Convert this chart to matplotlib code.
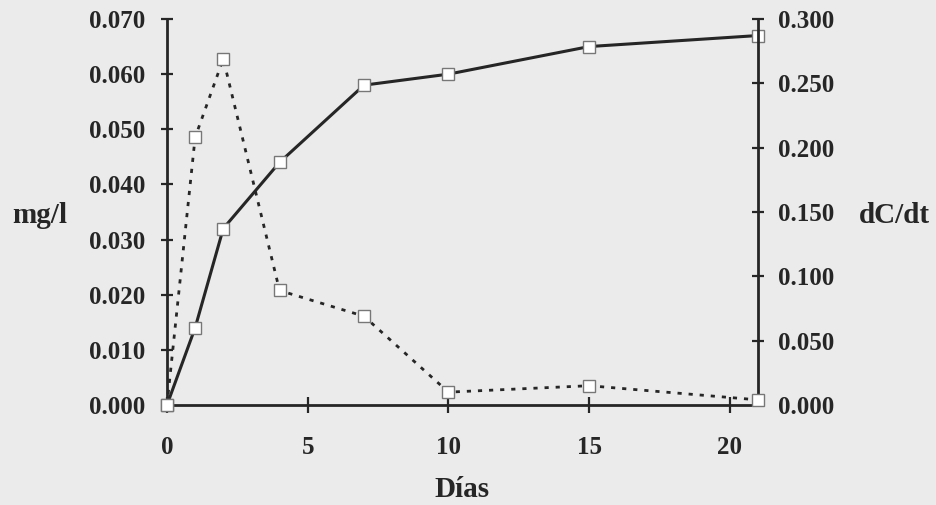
import numpy as np
import matplotlib
matplotlib.use('Agg')
import matplotlib.pyplot as plt

dias = [0, 1, 2, 4, 7, 10, 15, 21]
conc = [0.000, 0.014, 0.032, 0.044, 0.058, 0.060, 0.065, 0.067]
dcdt = [0.000, 0.208, 0.269, 0.089, 0.069, 0.010, 0.015, 0.004]

left_ticks = [0.000, 0.010, 0.020, 0.030, 0.040, 0.050, 0.060, 0.070]
right_ticks = [0.000, 0.050, 0.100, 0.150, 0.200, 0.250, 0.300]
x_ticks = [0, 5, 10, 15, 20]

bg = '#ebebeb'
ink = '#262626'
plt.rcParams['font.family'] = ['Liberation Serif', 'DejaVu Serif']
plt.rcParams['font.weight'] = 'bold'

fig = plt.figure(figsize=(9.36, 5.05), dpi=100, facecolor=bg)
ax = fig.add_axes([0.1784, 0.198, 0.6314, 0.7644])
ax.set_facecolor(bg)
ax2 = ax.twinx()

ax.plot(dias, conc, color=ink, lw=2.2, marker='s', ms=8.5, mfc='white',
        mec='#777777', mew=1.0, zorder=3, clip_on=False)
ax2.plot(dias, dcdt, color=ink, lw=2.0, ls=(0, (1.5, 2.5)), marker='s', ms=8.5,
         mfc='white', mec='#777777', mew=1.0, zorder=3, clip_on=False)

ax.set_xlim(0, 21)
ax.set_ylim(0, 0.070)
ax2.set_ylim(0, 0.300)

ax.set_xticks(x_ticks)
ax.set_yticks(left_ticks)
ax.set_yticklabels(['%.3f' % v for v in left_ticks])
ax2.set_yticks(right_ticks)
ax2.set_yticklabels(['%.3f' % v for v in right_ticks])

for a in (ax, ax2):
    a.spines['top'].set_visible(False)
    for s in a.spines.values():
        s.set_color(ink)
        s.set_linewidth(2.0)
    a.tick_params(direction='inout', length=9, width=1.6, color=ink,
                  labelsize=18, labelcolor=ink)
ax2.spines['left'].set_visible(False)
ax2.spines['bottom'].set_visible(False)
ax.spines['right'].set_visible(False)
ax.tick_params(axis='y', pad=11)
ax2.tick_params(axis='y', pad=10)
ax.tick_params(axis='x', pad=17, length=11)

ax.set_xlabel('Días', fontsize=21, fontweight='bold', color=ink, va='center')
ax.set_ylabel('mg/l', fontsize=21, fontweight='bold', color=ink, rotation=0,
              va='center', ha='center')
ax2.set_ylabel('dC/dt', fontsize=21, fontweight='bold', color=ink, rotation=0,
               va='center', ha='center')
ax.xaxis.set_label_coords(0.499, -0.22)
ax.yaxis.set_label_coords(-0.215, 0.49)
ax2.yaxis.set_label_coords(1.230, 0.492)

fig.savefig('out.png', dpi=100, facecolor=bg)
